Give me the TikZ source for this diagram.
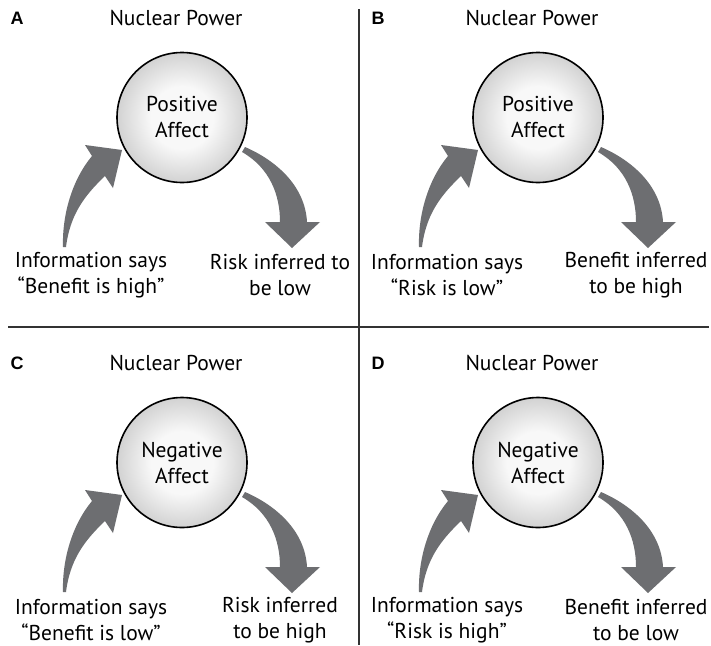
\documentclass[tikz,border=0pt]{standalone}
\usepackage{fontspec}
\setmainfont{PT Sans}
\newfontfamily\letterfont{Liberation Sans}
\definecolor{arrowgray}{HTML}{6D6E71}
\definecolor{rulegray}{HTML}{333333}
\definecolor{ballin}{HTML}{F8F8F8}
\definecolor{ballout}{HTML}{D2D2D2}
\pgfdeclareradialshading{affectball}{\pgfpoint{0bp}{0bp}}{color(0bp)=(ballin); color(12bp)=(ballin); color(25bp)=(ballout); color(50bp)=(ballout)}

\tikzset{
  rule/.style={draw=rulegray, line width=1.8pt},
  tag/.style={font=\letterfont\bfseries\fontsize{18}{20}\selectfont, inner sep=0pt},
  title/.style={font=\fontsize{21.5}{26}\selectfont, inner sep=0pt},
  affect/.style={circle, draw=black, line width=1.6pt, shading=affectball,
    minimum size=130pt, inner sep=0pt, align=center,
    font=\fontsize{21.5}{26}\selectfont},
  caption/.style={align=center, inner sep=0pt, font=\fontsize{21.5}{26}\selectfont},
  flowarrow/.style={fill=arrowgray, draw=none}
}

% one panel: #1 name prefix, #2/#3 offset, #4 letter, #5 affect word,
% #6 quoted information, #7/#8 the two lines of the inference,
% #9 horizontal position of the letter
\newcommand\affectpanel[9]{%
  \begin{scope}[shift={(#2,#3)}]
    \node[tag] (#1-tag) at (#9,18) {#4};
    \node[title] (#1-title) at (176,18) {Nuclear Power};
    \node[affect] (#1-affect) at (182,117.5) {#5\\Affect};
    \node[caption] (#1-info) at (91,275) {Information says\\#6};
    \node[caption] (#1-infer) at (280,275) {#7\\#8};
    % information feeding the affect
    \fill[flowarrow] (63,247)
      .. controls (62,215) and (72,180) .. (92,156)
      -- (85,145) -- (122,150) -- (113,188) -- (105,176)
      .. controls (84,196) and (70,215) .. (66,247) -- cycle;
    % affect driving the inference
    \fill[flowarrow] (245,147)
      .. controls (275,160) and (305,185) .. (307,222)
      -- (320,222) -- (292,248) -- (265,222) -- (280,222)
      .. controls (280,195) and (270,168) .. (242,152) -- cycle;
  \end{scope}}

\begin{document}
\begin{tikzpicture}[x=1pt,y=-1pt]
  \useasboundingbox (0,0) rectangle (711,645);
  \fill[white] (0,0) rectangle (711,645);

  \affectpanel{a}{0}{0}{A}{Positive}{``Benefit is high''}{Risk inferred to}{be low}{17}
  \affectpanel{b}{356}{0}{B}{Positive}{``Risk is low''}{Benefit inferred}{to be high}{22}
  \affectpanel{c}{0}{345}{C}{Negative}{``Benefit is low''}{Risk inferred}{to be high}{17}
  \affectpanel{d}{356}{345}{D}{Negative}{``Risk is high''}{Benefit inferred}{to be low}{22}

  % dividing rules
  \coordinate (vtop) at (359,9);
  \coordinate (vbot) at (359,645);
  \coordinate (hleft) at (8,327);
  \coordinate (hright) at (709,327);
  \draw[rule] (vtop) -- (vbot);
  \draw[rule] (hleft) -- (hright);
\end{tikzpicture}
\end{document}
